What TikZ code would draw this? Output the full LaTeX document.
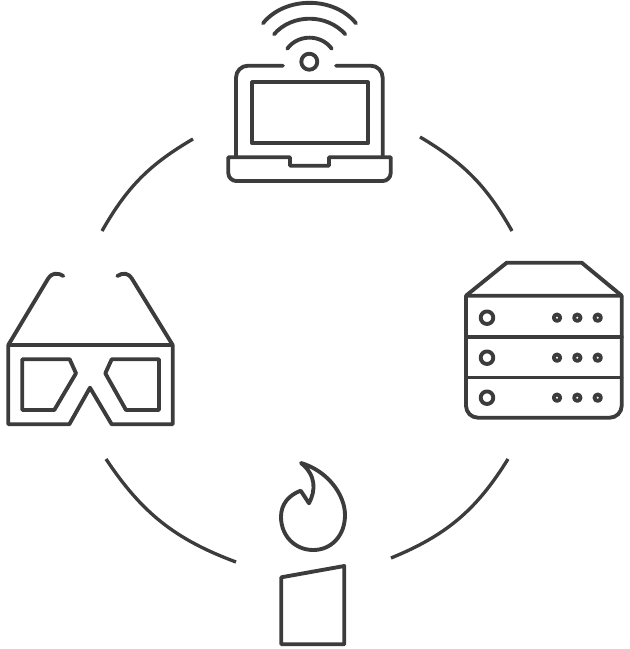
\documentclass[tikz,border=0pt]{standalone}
\usepackage{xcolor}
\definecolor{icongray}{HTML}{3C3C3C}
\tikzset{
	icon line/.style={draw=icongray,line width=2.9pt,line join=round,line cap=round,fill=none},
	ring arc/.style={draw=icongray,line width=2.5pt,line cap=butt},
	thin icon/.style={icon line,line width=2.4pt}
}
\begin{document}
\begin{tikzpicture}[x=0.75pt,y=-0.75pt]
	\useasboundingbox (0,0) rectangle (630,649);
	% ring
	\coordinate (tl1) at (193,139);
	\coordinate (tl2) at (102,231);
	\coordinate (tr1) at (420,137);
	\coordinate (tr2) at (512,231);
	\coordinate (br1) at (508,459);
	\coordinate (br2) at (391,558);
	\coordinate (bl1) at (106,459);
	\coordinate (bl2) at (236,562);
	\draw [ring arc] (tl1) to[bend right=15] (tl2);
	\draw [ring arc] (tr1) to[bend left=15] (tr2);
	\draw [ring arc] (br1) to[bend left=18] (br2);
	\draw [ring arc] (bl1) to[bend right=18] (bl2);
	% laptop
	\draw [icon line] (283,65.7) -- (248,65.7) arc[start angle=270,end angle=180,radius=12] -- (236,156);
	\draw [icon line] (336,65.7) -- (370.7,65.7) arc[start angle=270,end angle=360,radius=12] -- (382.7,156);
	\draw [icon line] (252.3,82.3) rectangle (367.7,143.3);
	\draw [icon line] (228.3,157.3) -- (290,157.3) -- (290,165.7) -- (329,165.7) -- (329,157.3) -- (390.7,157.3)
		-- (390.7,173) arc[start angle=0,end angle=90,radius=8] -- (236.3,181)
		arc[start angle=90,end angle=180,radius=8] -- cycle;
	\draw [icon line] (309.3,61.7) circle[radius=8];
	\draw [icon line] (287.3,48.7) .. controls (298,34) and (321,34) .. (331.7,48.7);
	\draw [icon line] (274,34.3) .. controls (292,13.5) and (327,13.5) .. (345.3,34.3);
	\draw [icon line] (263,23.3) .. controls (285,-4) and (334,-4) .. (356,23.3);
	% glasses
	\draw [icon line] (8.3,345) -- (172.7,345) -- (172.7,424.3) -- (111.7,424.3) -- (90,387.7) -- (69.3,424.3) -- (8.3,424.3) -- cycle;
	\draw [icon line] (22.3,359.3) -- (69.7,359.3) -- (76,373.3) -- (54.3,410) -- (22.3,410) -- cycle;
	\draw [icon line] (159,359.3) -- (111.7,359.3) -- (105.3,373.3) -- (126,410) -- (159,410) -- cycle;
	\draw [icon line] (8.3,345) -- (48.3,278.3) .. controls (51,273.5) and (57,272) .. (63.3,276);
	\draw [icon line] (172.7,345) -- (131.7,278.3) .. controls (129,273.5) and (123,272) .. (117.3,276);
	% server
	\draw [icon line] (466,295.7) -- (506.7,262.7) -- (581.7,262.7) -- (621.7,295.7);
	\draw [icon line] (466,295.7) -- (621.7,295.7) -- (621.7,405.7) arc[start angle=0,end angle=90,radius=12]
		-- (478,417.7) arc[start angle=90,end angle=180,radius=12] -- cycle;
	\draw [icon line] (466,336.7) -- (621.7,336.7);
	\draw [thin icon] (466,377.7) -- (621.7,377.7);
	\foreach \rowy in {317.7,357.7,397.7} {
		\draw [icon line] (487,\rowy) circle[radius=6.3];
		\foreach \dotx in {557,577.3,597.7}
			\draw [icon line] (\dotx,\rowy) circle[radius=3.2];
	}
	% candle
	\draw [icon line] (281.3,577.3) -- (344.3,566) -- (344.3,644.3) -- (281.3,644.3) -- cycle;
	\draw [icon line] (301,463) .. controls (328,471) and (345,495) .. (345,515)
		.. controls (345,536) and (331,550) .. (313.3,550)
		.. controls (295,550) and (281,536) .. (281,516.7)
		.. controls (281,504) and (289,495) .. (300.7,490.7)
		-- (309,503.3) .. controls (316,490) and (316,475) .. cycle;
\end{tikzpicture}
\end{document}
